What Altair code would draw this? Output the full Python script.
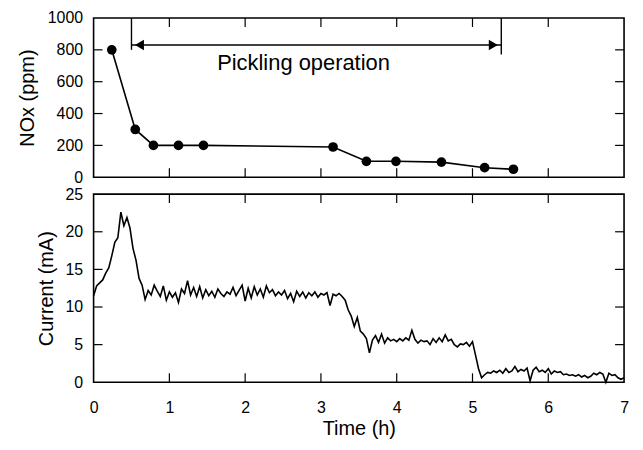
import altair as alt
import pandas as pd

# ---- NOx (top panel) ----
nox_time = [0.24, 0.55, 0.79, 1.12, 1.45, 3.16, 3.60, 3.99, 4.59, 5.16, 5.54]
nox_ppm = [800, 300, 200, 200, 200, 190, 100, 100, 95, 60, 50]

# ---- Current (bottom panel) ----
time_h = [
    0.00, 0.04, 0.08, 0.12, 0.16, 0.20, 0.24, 0.28, 0.32, 0.36, 0.40, 0.44, 0.48, 0.52, 0.56, 0.60,
    0.64, 0.68, 0.72, 0.76, 0.80, 0.84, 0.88, 0.92, 0.96, 1.00, 1.04, 1.08, 1.12, 1.16, 1.20, 1.24,
    1.28, 1.32, 1.36, 1.40, 1.44, 1.48, 1.52, 1.56, 1.60, 1.64, 1.68, 1.72, 1.76, 1.80, 1.84, 1.88,
    1.92, 1.96, 2.00, 2.04, 2.08, 2.12, 2.16, 2.20, 2.24, 2.28, 2.32, 2.36, 2.40, 2.44, 2.48, 2.52,
    2.56, 2.60, 2.64, 2.68, 2.72, 2.76, 2.80, 2.84, 2.88, 2.92, 2.96, 3.00, 3.04, 3.08, 3.12, 3.16,
    3.20, 3.24, 3.28, 3.32, 3.36, 3.40, 3.44, 3.48, 3.52, 3.56, 3.60, 3.64, 3.68, 3.72, 3.76, 3.80,
    3.84, 3.88, 3.92, 3.96, 4.00, 4.04, 4.08, 4.12, 4.16, 4.20, 4.24, 4.28, 4.32, 4.36, 4.40, 4.44,
    4.48, 4.52, 4.56, 4.60, 4.64, 4.68, 4.72, 4.76, 4.80, 4.84, 4.88, 4.92, 4.96, 5.00, 5.04, 5.08,
    5.12, 5.16, 5.20, 5.24, 5.28, 5.32, 5.36, 5.40, 5.44, 5.48, 5.52, 5.56, 5.60, 5.64, 5.68, 5.72,
    5.76, 5.80, 5.84, 5.88, 5.92, 5.96, 6.00, 6.04, 6.08, 6.12, 6.16, 6.20, 6.24, 6.28, 6.32, 6.36,
    6.40, 6.44, 6.48, 6.52, 6.56, 6.60, 6.64, 6.68, 6.72, 6.76, 6.80, 6.84, 6.88, 6.92, 6.96, 7.00,
]
current_mA = [
    11.5, 12.8, 13.2, 13.6, 14.5, 15.2, 16.8, 18.6, 19.2, 22.6, 20.8, 21.9, 20.5, 17.8, 16.2, 13.8,
    12.9, 11.0, 12.2, 11.6, 12.9, 12.1, 11.4, 12.8, 10.9, 12.0, 11.3, 11.9, 10.6, 12.4, 11.8, 13.5,
    11.6, 12.6, 11.4, 12.7, 11.2, 12.3, 11.5, 12.1, 11.3, 12.4, 11.8, 11.4, 12.0, 11.7, 12.6, 11.5,
    12.2, 12.9, 10.8, 12.5, 11.2, 12.7, 11.6, 12.4, 11.3, 12.8, 11.9, 12.3, 11.5, 12.0, 11.6, 12.2,
    11.1, 11.8, 10.7, 12.1, 11.4, 12.0, 11.2, 11.9, 11.5, 12.0, 11.3, 11.8, 11.6, 11.9, 10.2, 11.7,
    11.5, 11.8, 11.4, 10.9, 9.6, 8.8, 7.4, 8.6, 6.8, 6.4, 5.8, 3.9, 5.6, 6.2, 5.3, 6.4,
    5.2, 5.9, 5.5, 5.7, 5.4, 5.8, 5.5, 5.9, 5.6, 6.9, 5.7, 5.2, 5.6, 5.4, 5.5, 5.0,
    5.8, 5.3, 5.9, 5.4, 6.3, 5.5, 5.7, 5.0, 4.7, 5.1, 5.0, 5.3, 4.8, 5.4, 3.6, 1.8,
    0.6, 1.0, 1.3, 1.2, 1.5, 1.3, 1.6, 1.2, 1.8, 1.3, 1.5, 2.1, 1.4, 1.7, 1.5, 1.9,
    0.2, 1.6, 2.0, 1.4, 1.6, 1.3, 1.8, 1.1, 1.5, 1.3, 1.4, 1.0, 1.1, 0.9, 1.0, 0.8,
    1.0, 0.7, 0.9, 0.6, 0.8, 1.2, 1.0, 1.3, 1.1, 0.0, 1.2, 0.9, 1.0, 0.6, 0.4, 0.6,
]

# ---- annotation ----
bracket_x = [0.5, 5.38]
bracket_top = [1000, 1000]
bracket_bottom = [800, 770]
arrow_level = 830
label_text = ["Pickling operation"]
label_x = [2.77]
label_y = [720]

# ---- axis tick values ----
x_ticks = [1, 2, 3, 4, 5, 6]
x_labels_vals = [0, 1, 2, 3, 4, 5, 6, 7]
nox_ticks = [200, 400, 600, 800]
nox_label_vals = [0, 200, 400, 600, 800, 1000]
cur_ticks = [5, 10, 15, 20]
cur_label_vals = [0, 5, 10, 15, 20, 25]

W = 533
H1 = 160
H2 = 189
TL = 9
FONT = "Liberation Sans"

xscale = alt.Scale(domain=[0, 7], nice=False)
nox_scale = alt.Scale(domain=[0, 1000], nice=False)
cur_scale = alt.Scale(domain=[0, 25], nice=False)

nox_df = pd.DataFrame({"t": nox_time, "v": nox_ppm})
cur_df = pd.DataFrame({"t": time_h, "v": current_mA})
br_df = pd.DataFrame({"t": bracket_x, "top": bracket_top, "bot": bracket_bottom})
arrow_df = pd.DataFrame({"t1": [bracket_x[0]], "t2": [bracket_x[1]], "v": [arrow_level]})
arr_l = pd.DataFrame({"t": [bracket_x[0]], "v": [arrow_level]})
arr_r = pd.DataFrame({"t": [bracket_x[1]], "v": [arrow_level]})
lab_df = pd.DataFrame({"t": label_x, "v": label_y, "s": label_text})
xt_df = pd.DataFrame({"t": x_ticks})
nt_df = pd.DataFrame({"v": nox_ticks})
ct_df = pd.DataFrame({"v": cur_ticks})

common = dict(ticks=False, domain=False, grid=False, labelOverlap=False, labelFlush=False,
              format="d")
yaxis_top = alt.Axis(values=nox_label_vals, labelPadding=11, titlePadding=10,
                     title="NOx (ppm)", **common)
yaxis_bot = alt.Axis(values=cur_label_vals, labelPadding=11, titlePadding=8,
                     title="Current (mA)", **common)
xaxis_bot = alt.Axis(values=x_labels_vals, labelPadding=17, titlePadding=3,
                     title="Time (h)", **common)


def X(f, axis):
    return alt.X(f"{f}:Q", scale=xscale, axis=axis)


def Y(f, scale, axis):
    return alt.Y(f"{f}:Q", scale=scale, axis=axis)


# Top panel (x axis hidden, y axis NOx)
XA1 = None
YA1 = yaxis_top
nox_line = alt.Chart(nox_df).mark_line(color="black", strokeWidth=1.6).encode(
    x=X("t", XA1), y=Y("v", nox_scale, YA1),
)
nox_pts = alt.Chart(nox_df).mark_circle(color="black", size=95, opacity=1).encode(
    x=X("t", XA1), y=Y("v", nox_scale, YA1)
)
brackets = alt.Chart(br_df).mark_rule(color="black", strokeWidth=1.4).encode(
    x=X("t", XA1), y=Y("top", nox_scale, YA1), y2="bot:Q"
)
arrow = alt.Chart(arrow_df).mark_rule(color="black", strokeWidth=1.4).encode(
    x=X("t1", XA1), x2="t2:Q", y=Y("v", nox_scale, YA1)
)
head_l = alt.Chart(arr_l).mark_point(shape="triangle-left", filled=True, color="black",
                                      size=110, opacity=1, xOffset=8).encode(
    x=X("t", XA1), y=Y("v", nox_scale, YA1)
)
head_r = alt.Chart(arr_r).mark_point(shape="triangle-right", filled=True, color="black",
                                      size=110, opacity=1, xOffset=-8).encode(
    x=X("t", XA1), y=Y("v", nox_scale, YA1)
)
label = alt.Chart(lab_df).mark_text(font=FONT, fontSize=22, color="black").encode(
    x=X("t", XA1), y=Y("v", nox_scale, YA1), text="s:N"
)


def xticks(h, xa):
    bot = alt.Chart(xt_df).mark_rule(color="black", strokeWidth=1.2).encode(
        x=X("t", xa), y=alt.value(h), y2=alt.value(h - TL))
    top = alt.Chart(xt_df).mark_rule(color="black", strokeWidth=1.2).encode(
        x=X("t", xa), y=alt.value(0), y2=alt.value(TL))
    return [bot, top]


def yticks(df, scale, ya):
    left = alt.Chart(df).mark_rule(color="black", strokeWidth=1.2).encode(
        y=Y("v", scale, ya), x=alt.value(0), x2=alt.value(TL))
    right = alt.Chart(df).mark_rule(color="black", strokeWidth=1.2).encode(
        y=Y("v", scale, ya), x=alt.value(W - TL), x2=alt.value(W))
    return [left, right]


top = alt.layer(
    nox_line, nox_pts, brackets, arrow, head_l, head_r, label,
    *xticks(H1, XA1), *yticks(nt_df, nox_scale, YA1)
).properties(width=W, height=H1)

# Bottom panel
XA2 = xaxis_bot
YA2 = yaxis_bot
cur_line = alt.Chart(cur_df).mark_line(color="black", strokeWidth=1.6).encode(
    x=X("t", XA2), y=Y("v", cur_scale, YA2),
)
bottom = alt.layer(
    cur_line, *xticks(H2, XA2), *yticks(ct_df, cur_scale, YA2)
).properties(width=W, height=H2)

chart = alt.vconcat(top, bottom, spacing=17, bounds="flush").properties(
    padding={"left": 8, "top": 0, "right": 5, "bottom": 5}
).configure_view(
    stroke="black", strokeWidth=1.6
).configure_axis(
    labelFont=FONT, titleFont=FONT, labelFontSize=16, titleFontSize=20,
    labelColor="black", titleColor="black", titleFontWeight="normal",
    labelOverlap=False
)

chart.save("out.html", embed_options={"renderer": "svg", "actions": False})
